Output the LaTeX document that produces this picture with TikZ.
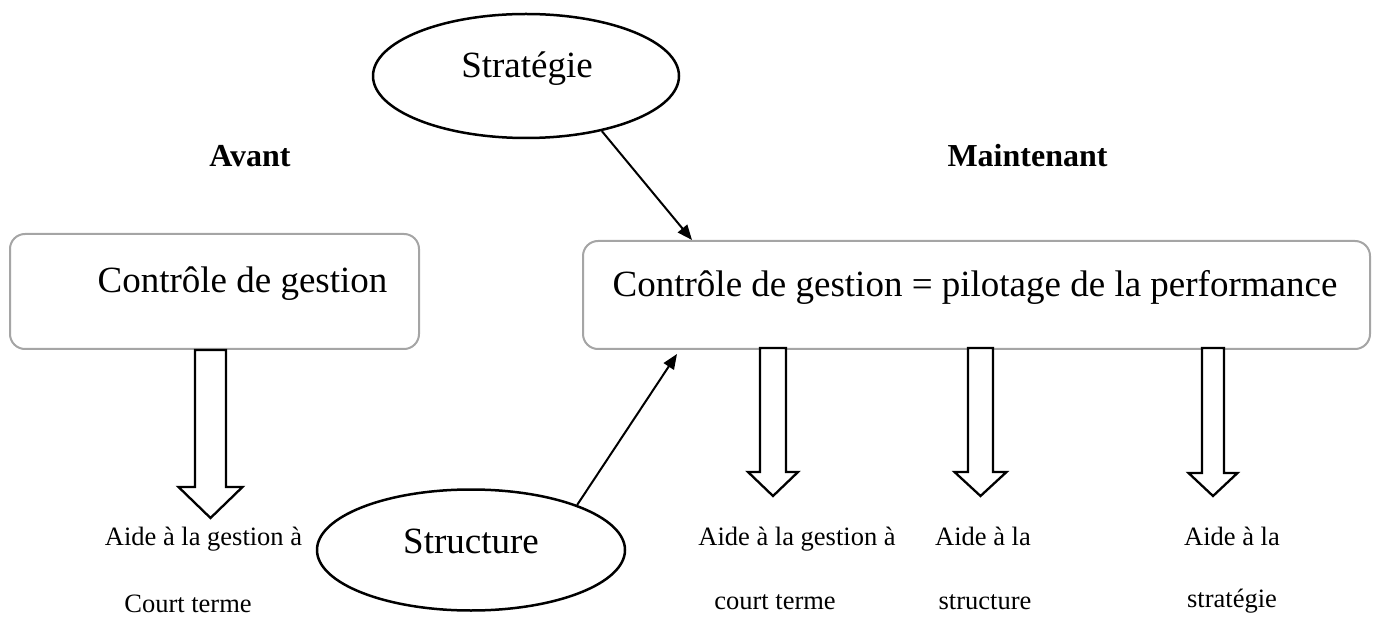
\documentclass[tikz,border=0pt]{standalone}
\usepackage{fontspec}
\setmainfont{Liberation Serif}
\usetikzlibrary{shapes.geometric,arrows.meta,calc}
\definecolor{boxgray}{RGB}{165,165,165}

% hollow block arrow pointing down: x, top y, tip y, half shaft, half head, head length
\newcommand{\hollowdown}[6]{%
  \draw[hollow] ({#1-#4},#2) -- ({#1-#4},{#3-#6}) -- ({#1-#5},{#3-#6}) -- (#1,#3)
    -- ({#1+#5},{#3-#6}) -- ({#1+#4},{#3-#6}) -- ({#1+#4},#2) -- cycle;}

\begin{document}
\begin{tikzpicture}[x=1pt,y=-1pt,
  panel/.style={draw=boxgray, line width=2pt, rounded corners=15pt, fill=white, inner sep=0pt},
  oval/.style={ellipse, draw, line width=2.5pt, inner sep=0pt},
  big/.style={font=\fontsize{37}{44}\selectfont, anchor=base, inner sep=0pt},
  small/.style={font=\fontsize{26.5}{32}\selectfont, anchor=base, inner sep=0pt},
  heading/.style={font=\fontsize{32}{38}\selectfont\bfseries, anchor=base, inner sep=0pt},
  link/.style={line width=2pt, -{Triangle[length=15pt,width=12pt]}},
  hollow/.style={draw, line width=2.3pt, fill=white, line join=miter}]

\useasboundingbox (0,0) rectangle (1373,617);

% headings
\node[heading] (avant) at (250,167) {Avant};
\node[heading] (maint) at (1027.5,167) {Maintenant};

% ovals
\node[oval, minimum width=306pt, minimum height=124pt] (strat) at (526,76) {};
\node[big] (strattxt) at (527,78) {Stratégie};
\node[oval, minimum width=308pt, minimum height=121pt] (struct) at (471,550) {};
\node[big] (structtxt) at (471,553) {Structure};

% rounded boxes
\node[panel, anchor=north west, minimum width=409pt, minimum height=115pt] (lbox) at (9,233) {};
\node[big] (lboxtxt) at (242.5,293) {Contrôle de gestion};
\node[panel, anchor=north west, minimum width=787pt, minimum height=108pt] (rbox) at (582,240) {};
\node[big] (rboxtxt) at (975,297) {Contrôle de gestion = pilotage de la performance};

% influence arrows
\coordinate (stratend) at ($(rbox.north west)+(110,0)$);
\coordinate (structend) at ($(rbox.south west)+(95,4)$);
\draw[link] (strat.-36) -- (stratend);
\draw[link] (struct.23) -- (structend);

% block arrows
\hollowdown{210.5}{350}{518}{15.5}{32}{31}
\hollowdown{773}{348}{496}{13}{25}{24}
\hollowdown{980.5}{348}{496}{12.5}{26}{24}
\hollowdown{1213}{348}{496}{11}{24.5}{23}

% outcomes
\node[small] (a1) at (203.5,545) {Aide à la gestion à};
\node[small] (a2) at (188,612) {Court terme};
\node[small] (b1) at (797,545) {Aide à la gestion à};
\node[small] (b2) at (775,609) {court terme};
\node[small] (c1) at (983,545) {Aide à la};
\node[small] (c2) at (985,609) {structure};
\node[small] (d1) at (1232,545) {Aide à la};
\node[small] (d2) at (1232,607) {stratégie};

\end{tikzpicture}
\end{document}
